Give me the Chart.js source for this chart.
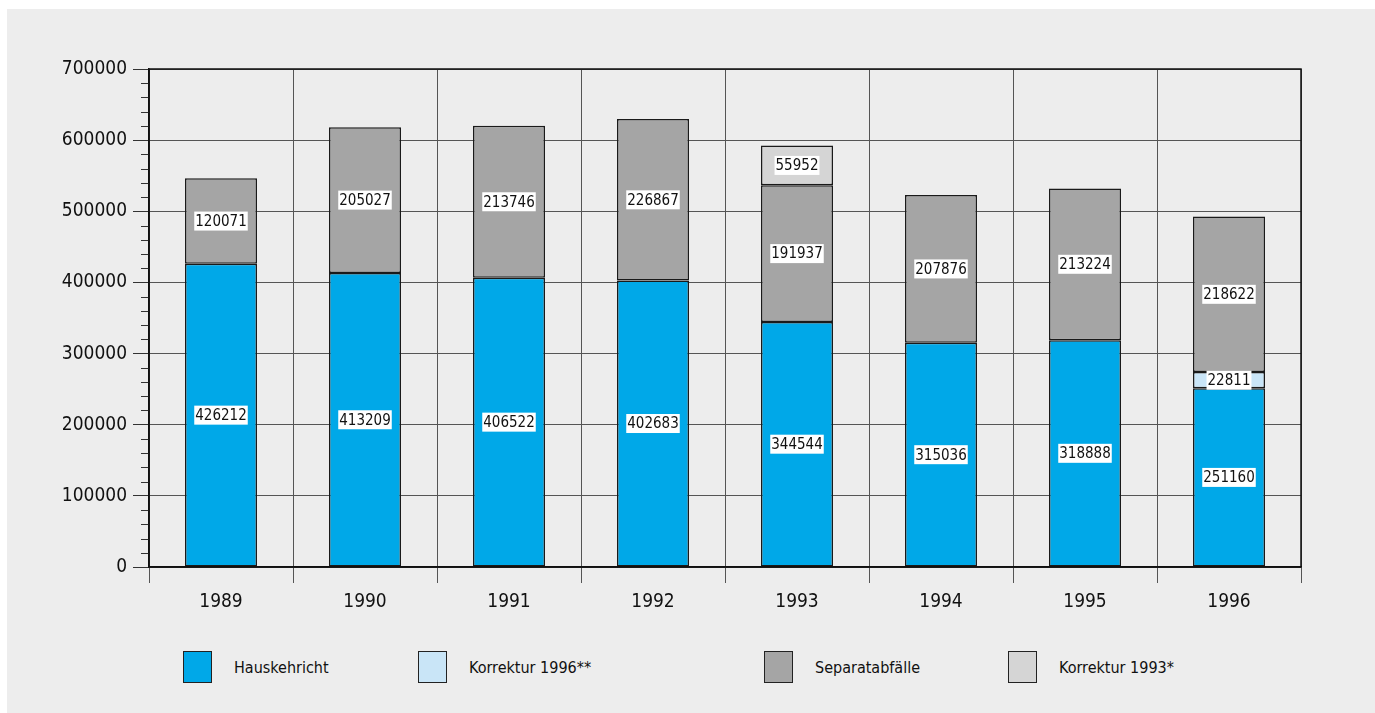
<!DOCTYPE html>
<html>
<head>
<meta charset="utf-8">
<script src="https://cdn.jsdelivr.net/npm/chart.js@4/dist/chart.umd.min.js"></script>
<style>
  html, body { margin: 0; padding: 0; background: #fff; width: 1375px; height: 713px; overflow: hidden; }
  #panel { position: absolute; left: 7px; top: 9px; width: 1368px; height: 704px; background: #ededed; }
  #chartWrap { position: absolute; left: 0; top: 0; width: 1368px; height: 630px; }
  .legend-item { position: absolute; top: 642px; height: 32px; display: flex; align-items: center;
    font-family: 'DejaVu Sans Condensed', 'Liberation Sans Narrow', sans-serif; font-size: 16px; color: #111; }
  .legend-box { width: 27px; height: 30px; border: 1.5px solid #222; margin-right: 22px; }
</style>
</head>
<body>
<div id="panel">
  <div id="chartWrap"><canvas id="wasteChart"></canvas></div>
  <div id="legend"></div>
</div>
<script>
// Chart data
const years = ['1989', '1990', '1991', '1992', '1993', '1994', '1995', '1996'];
const hauskehricht = [426212, 413209, 406522, 402683, 344544, 315036, 318888, 251160];
const korrektur1996 = [0, 0, 0, 0, 0, 0, 0, 22811];
const separatabfaelle = [120071, 205027, 213746, 226867, 191937, 207876, 213224, 218622];
const korrektur1993 = [0, 0, 0, 0, 55952, 0, 0, 0];
const seriesNames = ['Hauskehricht', 'Korrektur 1996**', 'Separatabfälle', 'Korrektur 1993*'];
const seriesColors = ['#00a8e8', '#c9e5f7', '#a5a5a5', '#d5d5d5'];
const yTicks = [0, 100000, 200000, 300000, 400000, 500000, 600000, 700000];

// legend column positions (panel coords)
const legendLeft = [176, 411, 757, 1001];

const FONT = "'DejaVu Sans Condensed', 'Liberation Sans Narrow', sans-serif";
Chart.defaults.font.family = FONT;
Chart.defaults.color = '#111';

/**
 * Value labels: white box with number, centered in each segment
 */
const valueLabels = {
    id: 'valueLabels',
    afterDatasetsDraw(chart) {
        const ctx = chart.ctx;
        ctx.save();
        ctx.font = '15px ' + FONT;
        ctx.textAlign = 'center';
        ctx.textBaseline = 'middle';
        chart.data.datasets.forEach((ds, di) => {
            const meta = chart.getDatasetMeta(di);
            meta.data.forEach((bar, i) => {
                const v = ds.data[i];
                if (!v) return;
                const cy = (bar.y + bar.base) / 2;
                const txt = String(v);
                const w = ctx.measureText(txt).width + 2;
                ctx.fillStyle = '#fff';
                ctx.fillRect(bar.x - w / 2, cy - 9.5, w, 19);
                ctx.fillStyle = '#111';
                ctx.fillText(txt, bar.x, cy + 1);
            });
        });
        ctx.restore();
    }
};

/**
 * Minor ticks on y axis and black frame round the plot
 */
const frameAndMinor = {
    id: 'frameAndMinor',
    afterDraw(chart) {
        const ctx = chart.ctx;
        const a = chart.chartArea;
        const y = chart.scales.y;
        ctx.save();
        ctx.strokeStyle = '#333';
        ctx.lineWidth = 1;
        for (let v = 0; v <= y.max; v += 20000) {
            if (v % 100000 === 0) continue;
            const py = Math.round(y.getPixelForValue(v)) + 0.5;
            ctx.beginPath();
            ctx.moveTo(a.left - 8, py);
            ctx.lineTo(a.left, py);
            ctx.stroke();
        }
        ctx.strokeStyle = '#111';
        ctx.lineWidth = 1.5;
        ctx.strokeRect(a.left, a.top, a.right - a.left, a.bottom - a.top);
        ctx.restore();
    }
};

const datasets = [hauskehricht, korrektur1996, separatabfaelle, korrektur1993].map((data, i) => ({
    label: seriesNames[i],
    data: data,
    backgroundColor: seriesColors[i],
    borderColor: '#1a1a1a',
    borderWidth: 1.5,
    borderSkipped: false,
    barPercentage: 0.5,
    categoryPercentage: 1.0
}));

new Chart(document.getElementById('wasteChart'), {
    type: 'bar',
    data: { labels: years, datasets: datasets },
    options: {
        responsive: true,
        maintainAspectRatio: false,
        animation: false,
        layout: { padding: { top: 60, right: 74, left: 0, bottom: 0 } },
        plugins: {
            legend: { display: false },
            tooltip: { enabled: false }
        },
        scales: {
            x: {
                stacked: true,
                offset: true,
                grid: {
                    offset: true,
                    color: '#555',
                    lineWidth: 1,
                    tickLength: 16,
                    tickColor: '#555'
                },
                border: { color: '#111', width: 1.5 },
                ticks: { font: { size: 19 }, padding: 8, color: '#111' },
                afterFit(scale) { scale.height = 72; }
            },
            y: {
                stacked: true,
                min: 0,
                max: 700000,
                afterBuildTicks(scale) { scale.ticks = yTicks.map(v => ({ value: v })); },
                grid: {
                    color: '#555',
                    lineWidth: 1,
                    tickLength: 16,
                    tickColor: '#333'
                },
                border: { color: '#111', width: 1.5 },
                ticks: { font: { size: 19 }, padding: 6, color: '#111', callback: v => String(v) },
                afterFit(scale) { scale.width = 142; }
            }
        }
    },
    plugins: [valueLabels, frameAndMinor]
});

// HTML legend
const legendEl = document.getElementById('legend');
seriesNames.forEach((name, i) => {
    const item = document.createElement('div');
    item.className = 'legend-item';
    item.style.left = legendLeft[i] + 'px';
    item.innerHTML = '<div class="legend-box" style="background:' + seriesColors[i] + '"></div><span>' + name + '</span>';
    legendEl.appendChild(item);
});
</script>
</body>
</html>
